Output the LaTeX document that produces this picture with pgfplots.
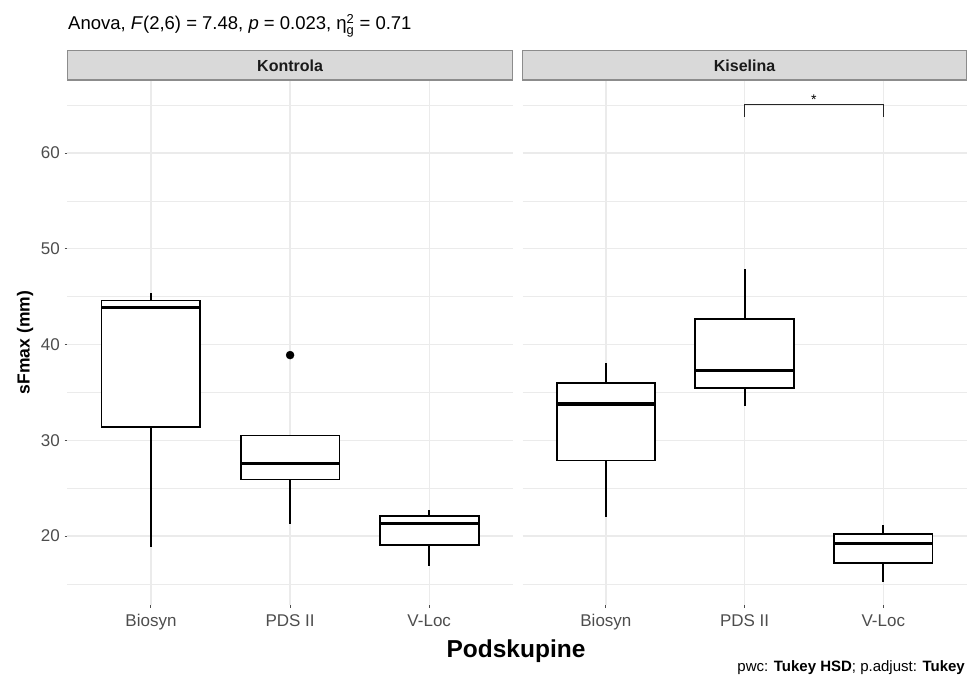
\documentclass[border=0pt]{standalone}
\usepackage{fontspec}
\setmainfont{Liberation Sans}
\usepackage{amsmath}
\usepackage{pgfplots}
\pgfplotsset{compat=1.18}
\definecolor{gridc}{HTML}{EBEBEB}
\definecolor{tickc}{HTML}{4D4D4D}
\definecolor{tickmc}{HTML}{4D4D4D}
\definecolor{stripfill}{HTML}{D9D9D9}
\definecolor{stripdraw}{HTML}{8C8C8C}
\definecolor{stripc}{HTML}{1A1A1A}
\pgfplotsset{
  facet/.style={
    scale only axis, height=525pt,
    xmin=0.4, xmax=3.6, ymin=12.8, ymax=67.63,
    axis lines=left, axis line style={draw=none},
    xtick={1,2,3}, xticklabels={Biosyn,PDS II,V-Loc},
    ytick={20,30,40,50,60}, minor ytick={15,25,35,45,55,65},
    grid=both,
    major grid style={gridc, line width=1.3pt},
    minor grid style={gridc, line width=0.7pt},
    tick align=outside, major tick length=2.75pt, minor tick length=0pt,
    tick style={tickmc, line width=1pt},
    ticklabel style={font=\fontsize{17}{20}\selectfont, text=tickc},
    xticklabel style={text height=12.2pt, text depth=3.6pt, yshift=-3pt},
    yticklabel style={xshift=-1.5pt},
    /pgf/number format/assume math mode=true,
    clip=false,
  },
  whisk/.style={black, line width=1.8pt, mark=none},
  bbox/.style={draw=black, fill=white, line width=1.8pt, mark=none},
  med/.style={black, line width=3.3pt, mark=none},
}
\begin{document}
\begin{tikzpicture}
\useasboundingbox (0,0) rectangle (967pt,677pt);
% ---------- Kontrola ----------
\begin{axis}[facet, at={(67.5pt,72pt)}, anchor=south west, width=445.2pt]
% Biosyn: lw 18.9, q1 31.4, med 43.9, q3 44.6, uw 45.4
\addplot[whisk] coordinates {(1,18.9) (1,31.4)};
\addplot[whisk] coordinates {(1,44.6) (1,45.4)};
\addplot[bbox] coordinates {(0.645,31.4) (1.355,31.4) (1.355,44.6) (0.645,44.6)} -- cycle;
\addplot[med] coordinates {(0.645,43.9) (1.355,43.9)};
% PDS II: lw 21.3, q1 25.9, med 27.6, q3 30.5, uw 30.5, outlier 38.9
\addplot[whisk] coordinates {(2,21.3) (2,25.9)};
\addplot[bbox] coordinates {(1.645,25.9) (2.355,25.9) (2.355,30.5) (1.645,30.5)} -- cycle;
\addplot[med] coordinates {(1.645,27.6) (2.355,27.6)};
\addplot[only marks, mark=*, mark size=4pt, black] coordinates {(2,38.9)};
% V-Loc: lw 16.9, q1 19.1, med 21.3, q3 22.1, uw 22.7
\addplot[whisk] coordinates {(3,16.9) (3,19.1)};
\addplot[whisk] coordinates {(3,22.1) (3,22.7)};
\addplot[bbox] coordinates {(2.645,19.1) (3.355,19.1) (3.355,22.1) (2.645,22.1)} -- cycle;
\addplot[med] coordinates {(2.645,21.3) (3.355,21.3)};
\draw[fill=stripfill, draw=stripdraw, line width=1.2pt] (rel axis cs:0,1) rectangle ([yshift=29.3pt]rel axis cs:1,1);
\node[font=\bfseries\fontsize{16}{19}\selectfont, text=stripc] at ([yshift=14.6pt]rel axis cs:0.5,1) {Kontrola};
\end{axis}
% ---------- Kiselina ----------
\begin{axis}[facet, at={(522.7pt,72pt)}, anchor=south west, width=443.8pt, yticklabels={}, ytick style={draw=none}]
% Biosyn: lw 22.0, q1 27.9, med 33.8, q3 36.0, uw 38.1
\addplot[whisk] coordinates {(1,22.0) (1,27.9)};
\addplot[whisk] coordinates {(1,36.0) (1,38.1)};
\addplot[bbox] coordinates {(0.645,27.9) (1.355,27.9) (1.355,36.0) (0.645,36.0)} -- cycle;
\addplot[med] coordinates {(0.645,33.8) (1.355,33.8)};
% PDS II: lw 33.6, q1 35.5, med 37.3, q3 42.7, uw 47.9
\addplot[whisk] coordinates {(2,33.6) (2,35.5)};
\addplot[whisk] coordinates {(2,42.7) (2,47.9)};
\addplot[bbox] coordinates {(1.645,35.5) (2.355,35.5) (2.355,42.7) (1.645,42.7)} -- cycle;
\addplot[med] coordinates {(1.645,37.3) (2.355,37.3)};
% V-Loc: lw 15.2, q1 17.2, med 19.2, q3 20.2, uw 21.2
\addplot[whisk] coordinates {(3,15.2) (3,17.2)};
\addplot[whisk] coordinates {(3,20.2) (3,21.2)};
\addplot[bbox] coordinates {(2.645,17.2) (3.355,17.2) (3.355,20.2) (2.645,20.2)} -- cycle;
\addplot[med] coordinates {(2.645,19.2) (3.355,19.2)};
% significance bracket
\addplot[black!85, line width=1.4pt, mark=none] coordinates {(2,63.8) (2,65.1) (3,65.1) (3,63.8)};
\node[font=\fontsize{14}{16}\selectfont] at (axis cs:2.5,65.6) {*};
\draw[fill=stripfill, draw=stripdraw, line width=1.2pt] (rel axis cs:0,1) rectangle ([yshift=29.3pt]rel axis cs:1,1);
\node[font=\bfseries\fontsize{16}{19}\selectfont, text=stripc] at ([yshift=14.6pt]rel axis cs:0.5,1) {Kiselina};
\end{axis}
% ---------- texts ----------
\node[anchor=base west, font=\fontsize{18.5}{21}\selectfont, inner sep=0pt] at (68pt,647pt)
  {Anova, \textit{F}(2,6) = 7.48, \textit{p} = 0.023, η$^{\text{2}}_{\text{g}}$ = 0.71};
\node[rotate=90, font=\bfseries\fontsize{17.5}{20}\selectfont, inner sep=0pt] at (25pt,334.5pt) {sFmax (mm)};
\node[anchor=base, font=\bfseries\fontsize{24.5}{28}\selectfont, inner sep=0pt] at (516pt,19pt) {Podskupine};
\node[anchor=base east, font=\fontsize{15}{18}\selectfont, inner sep=0pt] at (965pt,5pt)
  {pwc: \textbf{Tukey HSD}; p.adjust: \textbf{Tukey}};
\end{tikzpicture}
\end{document}
